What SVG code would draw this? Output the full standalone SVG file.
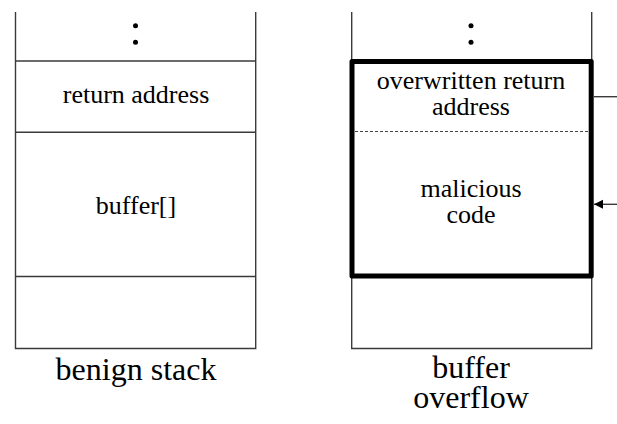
<svg xmlns="http://www.w3.org/2000/svg" width="617" height="424" viewBox="0 0 617 424">
  <defs>
    <style>
      .thin { fill: none; stroke: #3a3a3a; stroke-width: 1.4; }
      .thick { fill: none; stroke: #000; stroke-width: 5; stroke-linejoin: round; }
      .dash { stroke: #444; stroke-width: 1; stroke-dasharray: 3 2; }
      text { font-family: "Liberation Serif", "Times New Roman", Times, "DejaVu Serif", "Noto Serif", serif; fill: #000; text-anchor: middle; }
      .lbl { font-size: 26px; }
      .cap { font-size: 32px; }
      .dot { fill: #000; }
    </style>
    <marker id="arrowhead" markerWidth="10" markerHeight="10" refX="9" refY="5" orient="auto" markerUnits="userSpaceOnUse">
      <path d="M0,0.5 L9,5 L0,9.5 Z" fill="#000"/>
    </marker>
  </defs>

  <rect width="617" height="424" fill="#fff"/>

  <!-- benign stack -->
  <g id="benign-stack">
    <path class="thin" d="M15.5,12 V348.5 H255.7 V12"/>
    <line class="thin" x1="15.5" y1="61" x2="255.7" y2="61"/>
    <line class="thin" x1="15.5" y1="132.3" x2="255.7" y2="132.3"/>
    <line class="thin" x1="15.5" y1="276.5" x2="255.7" y2="276.5"/>
    <circle class="dot" cx="135.5" cy="25.8" r="2.5"/>
    <circle class="dot" cx="135.5" cy="42.3" r="2.5"/>
    <text class="lbl" x="136" y="103">return address</text>
    <text class="lbl" x="136" y="214">buffer[]</text>
    <text class="cap" x="136" y="380">benign stack</text>
  </g>

  <!-- overflowed stack -->
  <g id="overflow-stack">
    <path class="thin" d="M351.7,12 V348.5 H591.7 V12"/>
    <line class="dash" x1="355" y1="131.5" x2="589" y2="131.5"/>
    <rect class="thick" x="352" y="61.5" width="239.2" height="214.5"/>
    <circle class="dot" cx="471" cy="25.8" r="2.5"/>
    <circle class="dot" cx="471" cy="42.3" r="2.5"/>
    <text class="lbl" x="471" y="89">overwritten return</text>
    <text class="lbl" x="471" y="115">address</text>
    <text class="lbl" x="471" y="197">malicious</text>
    <text class="lbl" x="471" y="223">code</text>
    <text class="cap" x="471" y="378">buffer</text>
    <text class="cap" x="471" y="408">overflow</text>
  </g>

  <!-- connectors -->
  <g id="connectors">
    <line class="thin" x1="594" y1="96.7" x2="617" y2="96.7"/>
    <line class="thin" x1="617" y1="204.3" x2="594" y2="204.3" marker-end="url(#arrowhead)"/>
  </g>
</svg>
